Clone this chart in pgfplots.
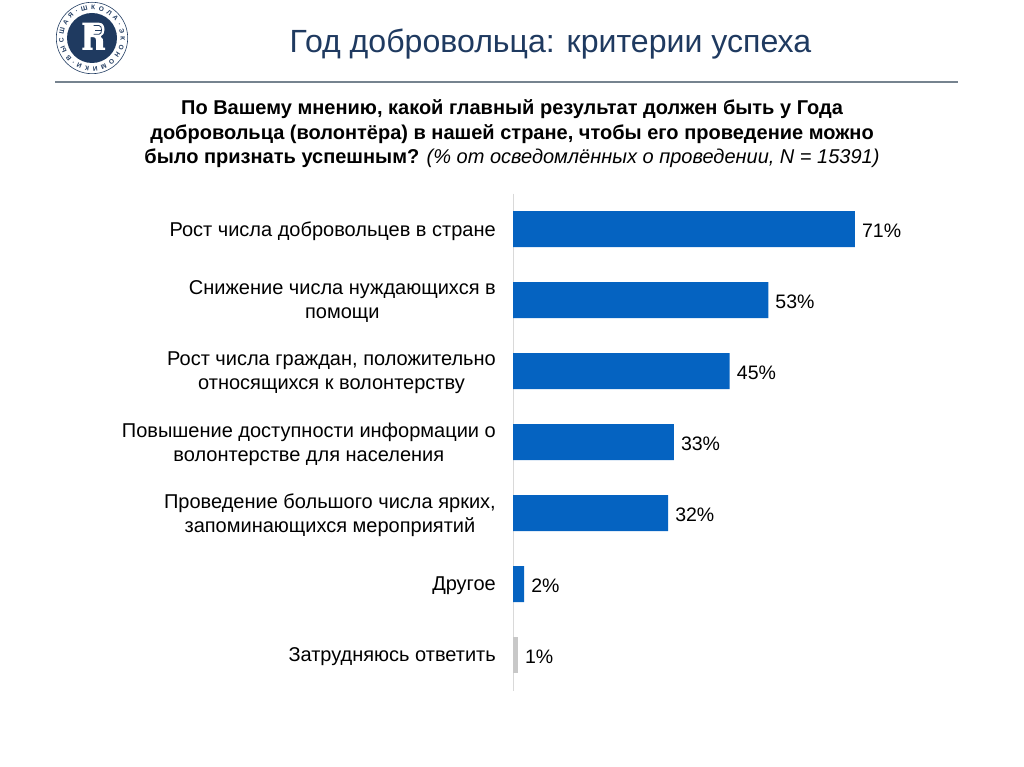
\documentclass[border=0pt]{standalone}
\usepackage{fontspec}
\setmainfont{Liberation Sans}
\usepackage{pgfplots}
\pgfplotsset{compat=1.18}
\usetikzlibrary{decorations.text}
\definecolor{hsenavy}{HTML}{1F3A60}
\definecolor{barblue}{HTML}{0563C1}
\definecolor{bargrey}{HTML}{C8C8C8}
\definecolor{rulegrey}{HTML}{76838F}
\begin{document}
\begin{tikzpicture}[x=1pt,y=1pt]
\useasboundingbox (0,0) rectangle (1024,767);
% logo
\begin{scope}[shift={(92,729)}]
\fill[hsenavy] (0,0) circle (25);
\draw[hsenavy,line width=0.6pt] (0,0) circle (35.7);
\path[decorate,decoration={text along path,text align=fit to path,
  text={|\fontsize{6.5}{6.5}\selectfont\bfseries\color{hsenavy}|ВЫСШАЯ·ШКОЛА·ЭКОНОМИКИ·}}]
  (-20.15,-20.15) arc[start angle=225,end angle=-130,radius=28.5];
% letter: slab, stem, bowl and leg
\fill[white] (-9.7,15.3) -- (7,15.3) .. controls (11.5,15.3) and (12.5,11) .. (12.5,8)
  .. controls (12.5,5) and (11,2.5) .. (8.5,1.5)
  .. controls (11,0.5) and (11,-2) .. (11,-3) -- (11,-9.7) -- (13,-9.7) -- (13,-12)
  -- (4,-12) -- (4,-2) .. controls (4,0) and (3,0.8) .. (1.5,0.8) -- (-1.3,0.8)
  -- (-1.3,-9.7) -- (0.7,-9.7) -- (0.7,-12) -- (-9.7,-12) -- (-9.7,-9.7) -- (-7.7,-9.7)
  -- (-7.7,13) -- (-9.7,13) -- cycle;
\draw[hsenavy,line width=0.8pt] (1.5,12.5) -- (7,12.5) .. controls (9,12.5) and (9.5,10) .. (9.5,8)
  .. controls (9.5,6) and (9,3.7) .. (7,3.7) -- (1.5,3.7);
\draw[hsenavy,line width=0.8pt] (3,8) -- (9.5,8);
\end{scope}
% header
\node[anchor=base,text=hsenavy,font=\fontsize{32.1}{32}\selectfont] at (550.5,767-53) {Год добровольца: критерии успеха};
\draw[rulegrey,line width=1.2pt] (55,767-82) -- (958,767-82);
\node[anchor=center,align=center,inner sep=0pt,font=\fontsize{20}{24.5}\selectfont] at (512,767-134)
 {\bfseries По Вашему мнению, какой главный результат должен быть у Года\\
  \bfseries добровольца (волонтёра) в нашей стране, чтобы его проведение можно\\
  \bfseries было признать успешным? \normalfont\itshape (\% от осведомлённых о проведении, N = 15391)};
\begin{axis}[
  at={(513pt,76.5pt)}, anchor=south west,
  scale only axis,
  width=385.3pt, height=497pt,
  xmin=0, xmax=80,
  ymin=-0.5, ymax=6.5,
  y dir=reverse,
  xbar, bar width=36pt, bar shift=0pt,
  axis x line=none,
  axis y line=left,
  axis line style={draw=black!15,line width=1pt,-},
  ytick={0,1,2,3,4,5,6},
  major tick length=0pt,
  yticklabels={
    {Рост числа добровольцев в стране},
    {Снижение числа нуждающихся в\\помощи},
    {Рост числа граждан, положительно\\относящихся к волонтерству},
    {Повышение доступности информации о\\волонтерстве для населения},
    {Проведение большого числа ярких,\\запоминающихся мероприятий},
    {Другое},
    {Затрудняюсь ответить}},
  yticklabel style={align=center,font=\fontsize{20}{24}\selectfont,inner sep=0pt,xshift=-17pt,yshift=-2pt},
  nodes near coords={\pgfmathprintnumber{\pgfplotspointmeta}\%},
  nodes near coords style={font=\fontsize{19.5}{19.5}\selectfont,inner sep=0pt,xshift=7pt,yshift=-2pt,
    /pgf/number format/assume math mode=true,/pgf/number format/fixed,/pgf/number format/precision=0},
  clip=false,
]
\addplot[fill=barblue,draw=none] coordinates {(71,0) (53,1) (45,2) (33.4,3) (32.2,4) (2.3,5)};
\addplot[fill=bargrey,draw=none] coordinates {(1,6)};
\end{axis}
\end{tikzpicture}
\end{document}
